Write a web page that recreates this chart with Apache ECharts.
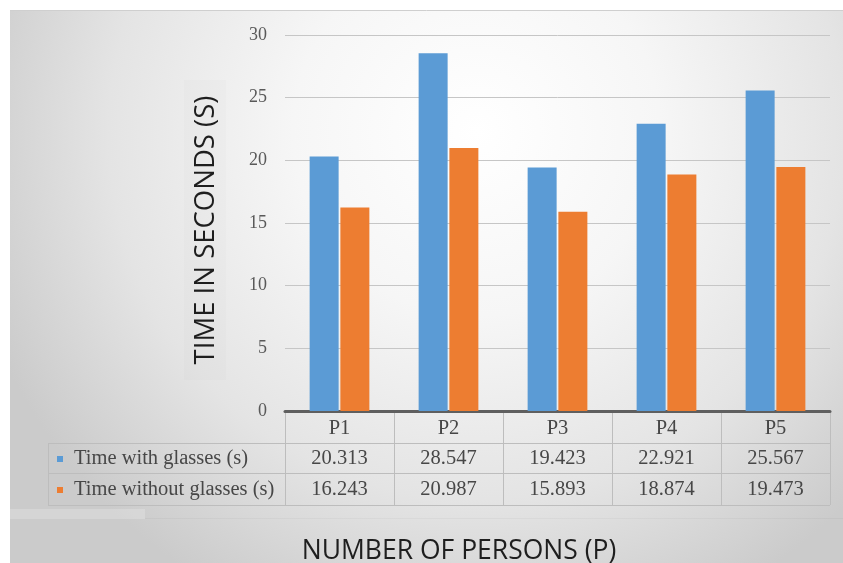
<!DOCTYPE html>
<html>
<head>
<meta charset="utf-8">
<script src="https://cdn.jsdelivr.net/npm/echarts@6/dist/echarts.min.js"></script>
<style>
  html, body { margin: 0; padding: 0; background: #ffffff; }
  #chart { width: 843px; height: 563px; }
</style>
</head>
<body>
<div id="chart"></div>
<script>
// Persons measured
const persons = ['P1', 'P2', 'P3', 'P4', 'P5'];
// Reading time per person, in seconds
const withGlasses = [20.313, 28.547, 19.423, 22.921, 25.567];
const withoutGlasses = [16.243, 20.987, 15.893, 18.874, 19.473];
const seriesNames = ['Time with glasses (s)', 'Time without glasses (s)'];
const seriesColors = ['#5B9BD5', '#ED7D31'];
// Value axis ticks
const yTicks = [0, 5, 10, 15, 20, 25, 30];

const serif = '"Liberation Serif", "DejaVu Serif", serif';
const sans = '"Open Sans", "Noto Sans", sans-serif';

const chart = echarts.init(document.getElementById('chart'), null, { renderer: 'canvas' });

const option = {
  animation: false,
  backgroundColor: '#ffffff',
  grid: { left: 285, right: 13, top: 35, bottom: 152, containLabel: false },
  xAxis: {
    type: 'category',
    data: persons,
    axisLine: { show: true, lineStyle: { color: '#5f5f5f', width: 3 } },
    axisTick: { show: false },
    axisLabel: { show: false },
    splitLine: { show: false }
  },
  yAxis: {
    type: 'value',
    min: yTicks[0],
    max: yTicks[yTicks.length - 1],
    interval: yTicks[1] - yTicks[0],
    axisLine: { show: false },
    axisTick: { show: false },
    axisLabel: { fontFamily: serif, fontSize: 18, color: '#595959', margin: 18 },
    splitLine: { show: true, lineStyle: { color: '#c6c6c6', width: 1 } }
  },
  series: [
    {
      name: seriesNames[0], type: 'bar', data: withGlasses,
      barWidth: 29, barGap: '6%',
      itemStyle: { color: seriesColors[0] }
    },
    {
      name: seriesNames[1], type: 'bar', data: withoutGlasses,
      barWidth: 29, barGap: '6%',
      itemStyle: { color: seriesColors[1] }
    }
  ]
};
chart.setOption(option);

// Build the data table under the plot from the axis positions
function buildTable() {
  const centers = persons.map(p => chart.convertToPixel({ xAxisIndex: 0 }, p));
  const band = centers[1] - centers[0];
  const bounds = [centers[0] - band / 2].concat(centers.map(c => c + band / 2));
  const y0 = chart.convertToPixel({ yAxisIndex: 0 }, 0) + 2;
  const rowH = [30, 30, 32];
  const rowTop = [y0, y0 + rowH[0], y0 + rowH[0] + rowH[1]];
  const tableBottom = rowTop[2] + rowH[2];
  const legendLeft = 48;
  const lineColor = '#bdbdbd';
  const els = [];

  // background panel with soft radial shading
  els.push({
    type: 'rect', z: -100, silent: true,
    shape: { x: 10, y: 10, width: 833, height: 553 },
    style: {
      fill: {
        type: 'radial', x: 0.56, y: 0.22, r: 0.95,
        colorStops: [
          { offset: 0, color: '#ffffff' },
          { offset: 0.35, color: '#f6f6f6' },
          { offset: 0.7, color: '#e4e4e4' },
          { offset: 1, color: '#cbcbcb' }
        ]
      }
    }
  });
  els.push({ type: 'line', z: -90, silent: true,
    shape: { x1: 10, y1: 10.5, x2: 843, y2: 10.5 },
    style: { stroke: '#cfcfcf', lineWidth: 1 } });
  // faint strip behind the value-axis title
  els.push({ type: 'rect', z: -80, silent: true,
    shape: { x: 184, y: 80, width: 42, height: 300 },
    style: { fill: 'rgba(0,0,0,0.012)' } });
  // faint strip below the table
  els.push({ type: 'rect', z: -80, silent: true,
    shape: { x: 10, y: tableBottom + 4, width: 135, height: 10 },
    style: { fill: 'rgba(255,255,255,0.2)' } });
  els.push({ type: 'line', z: -80, silent: true,
    shape: { x1: 145, y1: tableBottom + 13.5, x2: 843, y2: tableBottom + 13.5 },
    style: { stroke: 'rgba(0,0,0,0.03)', lineWidth: 1 } });

  // vertical cell borders
  bounds.forEach(x => {
    els.push({ type: 'line', silent: true,
      shape: { x1: Math.round(x) + 0.5, y1: y0, x2: Math.round(x) + 0.5, y2: tableBottom },
      style: { stroke: lineColor, lineWidth: 1 } });
  });
  els.push({ type: 'line', silent: true,
    shape: { x1: legendLeft + 0.5, y1: rowTop[1], x2: legendLeft + 0.5, y2: tableBottom },
    style: { stroke: lineColor, lineWidth: 1 } });
  // horizontal cell borders
  [rowTop[1], rowTop[2], tableBottom].forEach(y => {
    els.push({ type: 'line', silent: true,
      shape: { x1: legendLeft, y1: Math.round(y) + 0.5, x2: bounds[bounds.length - 1], y2: Math.round(y) + 0.5 },
      style: { stroke: lineColor, lineWidth: 1 } });
  });

  const cellText = (x, y, text, align) => ({
    type: 'text', silent: true, x: x, y: y,
    style: { text: text, fontFamily: serif, fontSize: 20.5, fill: '#474747',
      align: align || 'center', verticalAlign: 'middle' }
  });

  // header row
  persons.forEach((p, i) => els.push(cellText(centers[i], rowTop[0] + rowH[0] / 2 + 1, p)));
  // value rows
  const rows = [withGlasses, withoutGlasses];
  rows.forEach((vals, r) => {
    const cy = rowTop[r + 1] + rowH[r + 1] / 2 + 1;
    vals.forEach((v, i) => els.push(cellText(centers[i], cy, v.toFixed(3))));
    els.push({ type: 'rect', silent: true,
      shape: { x: 57, y: cy - 3, width: 6, height: 6 },
      style: { fill: seriesColors[r] } });
    els.push(cellText(74, cy, seriesNames[r], 'left'));
  });

  // axis titles
  els.push({ type: 'text', silent: true, x: 206, y: 230, rotation: Math.PI / 2,
    style: { text: 'TIME IN SECONDS (S)', fontFamily: sans, fontSize: 27.5, fill: '#1e1e1e',
      align: 'center', verticalAlign: 'middle' } });
  els.push({ type: 'text', silent: true, x: 459, y: 551,
    style: { text: 'NUMBER OF PERSONS (P)', fontFamily: sans, fontSize: 26.5, fill: '#1e1e1e',
      align: 'center', verticalAlign: 'middle' } });

  chart.setOption({ graphic: { elements: els } });
}
buildTable();
</script>
</body>
</html>
